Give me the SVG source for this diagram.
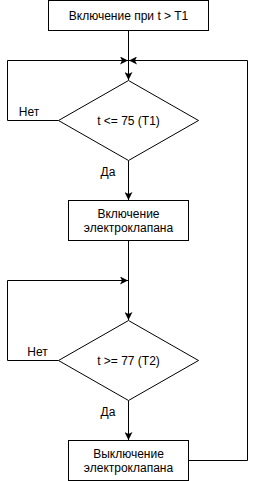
<svg xmlns="http://www.w3.org/2000/svg" width="256" height="481" viewBox="0 0 256 481">
<style>
.n{fill:#fff;stroke:#000;stroke-width:1}
.e{fill:none;stroke:#000;stroke-width:1}
.t{font-family:"Liberation Sans",Arial,sans-serif;font-size:12px;fill:#000;text-anchor:middle;dominant-baseline:central}
.l{font-family:"Liberation Sans",Arial,sans-serif;font-size:12px;fill:#000;text-anchor:middle;dominant-baseline:central}
</style>
<defs>
<marker id="a" viewBox="0 0 10 10" refX="10" refY="5" markerWidth="8" markerHeight="8" markerUnits="userSpaceOnUse" orient="auto">
<path d="M0,0 L10,5 L0,10 L2.5,5 Z" fill="#000"/>
</marker>
</defs>
<rect width="256" height="481" fill="#fff"/>
<g id="connectors">
<path class="e" d="M128.5,30.5 V80" marker-end="url(#a)"/>
<path class="e" d="M58.5,120.5 H7.5 V60.5 H128" marker-end="url(#a)"/>
<path class="e" d="M128.5,160.5 V200" marker-end="url(#a)"/>
<path class="e" d="M128.5,240.5 V320" marker-end="url(#a)"/>
<path class="e" d="M58.5,360.5 H7.5 V280.5 H128" marker-end="url(#a)"/>
<path class="e" d="M128.5,400.5 V440" marker-end="url(#a)"/>
<path class="e" d="M188.5,460.5 H247.5 V60.5 H129" marker-end="url(#a)"/>
<text class="l" x="29" y="112">Нет</text>
<text class="l" x="108" y="172">Да</text>
<text class="l" x="37.5" y="352">Нет</text>
<text class="l" x="108" y="412">Да</text>
</g>
<g id="start">
<rect class="n" x="48.5" y="0.5" width="160" height="30"/>
<text class="t" x="128.5" y="16">Включение при t &gt; T1</text>
</g>
<g id="cond1">
<path class="n" d="M128.5,80.5 L198.5,120.5 L128.5,160.5 L58.5,120.5 Z"/>
<text class="t" x="128.5" y="121">t &lt;= 75 (T1)</text>
</g>
<g id="valveOn">
<rect class="n" x="68.5" y="200.5" width="120" height="40"/>
<text class="t" x="128.5" y="214">Включение</text>
<text class="t" x="128.5" y="228">электроклапана</text>
</g>
<g id="cond2">
<path class="n" d="M128.5,320.5 L198.5,360.5 L128.5,400.5 L58.5,360.5 Z"/>
<text class="t" x="128.5" y="361">t &gt;= 77 (T2)</text>
</g>
<g id="valveOff">
<rect class="n" x="68.5" y="440.5" width="120" height="40"/>
<text class="t" x="128.5" y="454">Выключение</text>
<text class="t" x="128.5" y="468">электроклапана</text>
</g>
</svg>
